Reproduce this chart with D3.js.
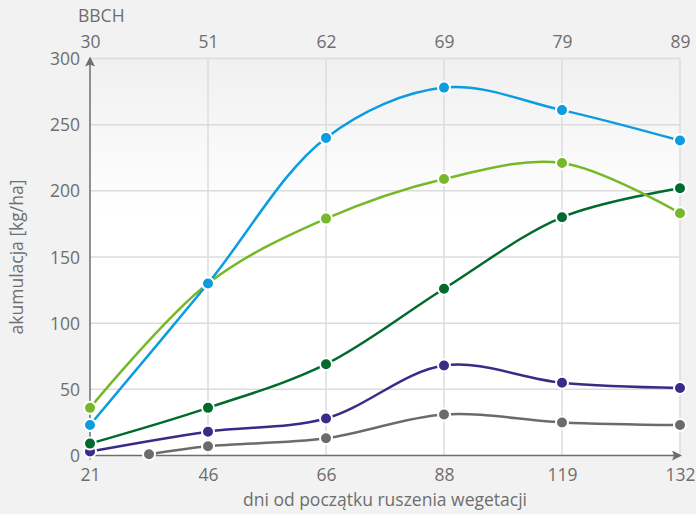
<!DOCTYPE html>
<html>
<head>
<meta charset="utf-8">
<script src="https://cdn.jsdelivr.net/npm/d3@7"></script>
<style>
  html, body { margin: 0; padding: 0; background: #f2f2f2; }
  svg { display: block; }
  text { font-family: "Open Sans", sans-serif; fill: #6e6e6e; }
</style>
</head>
<body>
<svg id="chart" width="696" height="514"></svg>
<script>
// Days since start of vegetation (bottom axis) and BBCH stages (top axis)
const days = ["21", "46", "66", "88", "119", "132"];
const bbch = ["30", "51", "62", "69", "79", "89"];
const yTicks = [0, 50, 100, 150, 200, 250, 300];

// Accumulation series [kg/ha]; idx = position along the day axis
const blueIdx = [0, 1, 2, 3, 4, 5];
const blueVals = [23, 130, 240, 278, 261, 238];
const lightGreenIdx = [0, 1, 2, 3, 4, 5];
const lightGreenVals = [36, 130, 179, 209, 221, 183];
const darkGreenIdx = [0, 1, 2, 3, 4, 5];
const darkGreenVals = [9, 36, 69, 126, 180, 202];
const purpleIdx = [0, 1, 2, 3, 4, 5];
const purpleVals = [3, 18, 28, 68, 55, 51];
const grayIdx = [0.5, 1, 2, 3, 4, 5];
const grayVals = [1, 7, 13, 31, 25, 23];

const series = [
  { idx: grayIdx, vals: grayVals, color: "#6b6b6b" },
  { idx: purpleIdx, vals: purpleVals, color: "#3b2a87" },
  { idx: darkGreenIdx, vals: darkGreenVals, color: "#006b2d" },
  { idx: lightGreenIdx, vals: lightGreenVals, color: "#77b82a" },
  { idx: blueIdx, vals: blueVals, color: "#0b9de0" }
];

const svg = d3.select("#chart");
const mLeft = 90, mRight = 680, mTop = 58.5, mBottom = 455.5;
const fs = "17.5px";

const x = d3.scaleLinear().domain([0, days.length - 1]).range([mLeft, mRight]);
const y = d3.scaleLinear().domain([0, 300]).range([mBottom, mTop]);

// Plot background: light gray fading to white
const defs = svg.append("defs");
const grad = defs.append("linearGradient").attr("id", "bg").attr("x1", 0).attr("x2", 0).attr("y1", 0).attr("y2", 1);
grad.append("stop").attr("offset", "0%").attr("stop-color", "#f0f0f0");
grad.append("stop").attr("offset", "40%").attr("stop-color", "#ffffff");
grad.append("stop").attr("offset", "100%").attr("stop-color", "#ffffff");
defs.append("marker").attr("id", "arrow").attr("viewBox", "0 0 10 10").attr("refX", 8).attr("refY", 5)
  .attr("markerWidth", 10).attr("markerHeight", 10).attr("markerUnits", "userSpaceOnUse").attr("orient", "auto")
  .append("path").attr("d", "M0,0 L10,5 L0,10 L2,5 Z").attr("fill", "#6e6e6e");

svg.append("rect").attr("x", mLeft).attr("y", mTop).attr("width", mRight - mLeft).attr("height", mBottom - mTop)
  .attr("fill", "url(#bg)");

// Grid
const grid = svg.append("g").attr("stroke", "#dcdcdc").attr("stroke-width", 1.5);
grid.selectAll("line.h").data(yTicks.slice(1)).join("line")
  .attr("x1", mLeft).attr("x2", mRight).attr("y1", d => y(d)).attr("y2", d => y(d));
grid.selectAll("line.v").data(d3.range(1, days.length)).join("line")
  .attr("x1", d => x(d)).attr("x2", d => x(d)).attr("y1", mTop).attr("y2", mBottom);

// Axes
const axisColor = "#6e6e6e";
const yAxis = d3.axisLeft(y).tickValues(yTicks).tickSize(0).tickPadding(10);
const gy = svg.append("g").attr("transform", `translate(${mLeft},0)`).call(yAxis);
gy.select(".domain").remove();
gy.selectAll("text").style("font-size", fs).attr("dy", "0.35em").attr("fill", axisColor);

const xBottom = d3.axisBottom(x).tickValues(d3.range(days.length)).tickFormat(i => days[i]).tickSize(0).tickPadding(13);
const gx = svg.append("g").attr("transform", `translate(0,${mBottom})`).call(xBottom);
gx.select(".domain").remove();
gx.selectAll("text").style("font-size", fs).attr("fill", axisColor);

const xTop = d3.axisTop(x).tickValues(d3.range(bbch.length)).tickFormat(i => bbch[i]).tickSize(0).tickPadding(11);
const gt = svg.append("g").attr("transform", `translate(0,${mTop})`).call(xTop);
gt.select(".domain").remove();
gt.selectAll("text").style("font-size", fs).attr("fill", axisColor);

svg.append("text").attr("x", 78).attr("y", 22).style("font-size", fs).text("BBCH");

// Axis lines with arrows
svg.append("line").attr("x1", mLeft).attr("x2", mLeft).attr("y1", mBottom + 4).attr("y2", mTop)
  .attr("stroke", axisColor).attr("stroke-width", 1.5).attr("marker-end", "url(#arrow)");
svg.append("line").attr("x1", mLeft).attr("x2", mRight).attr("y1", mBottom).attr("y2", mBottom)
  .attr("stroke", axisColor).attr("stroke-width", 1.5).attr("marker-end", "url(#arrow)");

// Axis titles
svg.append("text").attr("x", 385).attr("y", 506).attr("text-anchor", "middle")
  .style("font-size", fs).text("dni od początku ruszenia wegetacji");
svg.append("text").attr("transform", `translate(23,${(mTop + mBottom) / 2}) rotate(-90)`).attr("text-anchor", "middle")
  .style("font-size", fs).text("akumulacja [kg/ha]");

// Lines and points
const line = d3.line().x(d => x(d[0])).y(d => y(d[1])).curve(d3.curveCatmullRom.alpha(0.5));
series.forEach(s => {
  const pts = s.idx.map((v, i) => [v, s.vals[i]]);
  svg.append("path").datum(pts).attr("d", line).attr("fill", "none")
    .attr("stroke", s.color).attr("stroke-width", 2.5);
  svg.append("g").selectAll("circle").data(pts).join("circle")
    .attr("cx", d => x(d[0])).attr("cy", d => y(d[1])).attr("r", 6)
    .attr("fill", s.color).attr("stroke", "#fff").attr("stroke-width", 2);
});
</script>
</body>
</html>
